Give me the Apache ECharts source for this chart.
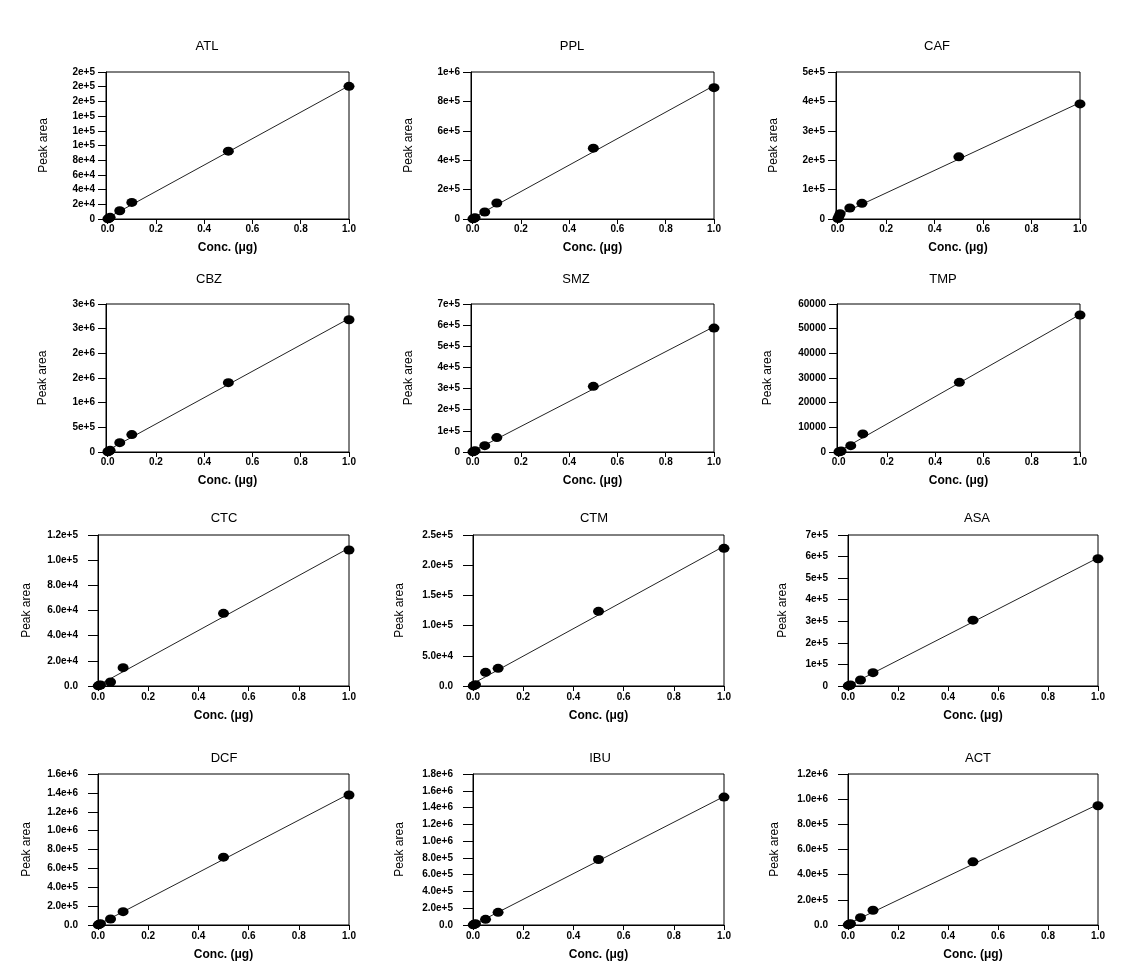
<!DOCTYPE html>
<html><head><meta charset="utf-8">
<script src="https://cdn.jsdelivr.net/npm/echarts@6/dist/echarts.min.js"></script>
<style>html,body{margin:0;padding:0;background:#fff}#c{width:1134px;height:974px}</style>
</head><body><div id="c"></div>
<script>
// ---- data ----
const conc = [0.001, 0.005, 0.01, 0.05, 0.1, 0.5, 1.0];
const compounds = ['ATL','PPL','CAF','CBZ','SMZ','TMP','CTC','CTM','ASA','DCF','IBU','ACT'];
const ATL = [200, 1000, 2300, 11300, 22600, 92300, 180500];
const PPL = [1000, 4500, 9000, 47500, 108600, 482000, 893700];
const CAF = [1500, 9000, 18000, 37300, 53200, 211500, 391400];
const CBZ = [5000, 17000, 34000, 190000, 353000, 1405000, 2681000];
const SMZ = [600, 3000, 6300, 30100, 68100, 310400, 586000];
const TMP = [50, 200, 400, 2580, 7330, 28230, 55520];
const CTC = [100, 500, 800, 3180, 14570, 57750, 108100];
const CTM = [200, 1000, 2000, 22600, 29250, 123600, 227900];
const ASA = [500, 2000, 4600, 27900, 62000, 305100, 590000];
const DCF = [1400, 7000, 14000, 63700, 141600, 718600, 1377000];
const IBU = [1500, 7500, 15000, 67700, 151300, 780500, 1525000];
const ACT = [1000, 5000, 10000, 58400, 116800, 501800, 947800];
const seriesValues = [ATL, PPL, CAF, CBZ, SMZ, TMP, CTC, CTM, ASA, DCF, IBU, ACT];
const yMaxes = [200000, 1000000, 500000, 3000000, 700000, 60000, 120000, 250000, 700000, 1600000, 1800000, 1200000];
const ySteps = [20000, 200000, 100000, 500000, 100000, 10000, 20000, 50000, 100000, 200000, 200000, 200000];
const yFormats = ['e0','e0','e0','e0','e0','plain','e1','e1','e0','e1','e1','e1'];
const xTicks = [0, 0.2, 0.4, 0.6, 0.8, 1.0];
const xTitle = 'Conc. (\u03bcg)';
const yTitle = 'Peak area';

// ---- layout (reference pixels) ----
const boxes = [
  [106,349,72,219],[471,714,72,219],[836,1080,72,219],
  [106,349,304,452],[471,714,304,452],[837,1080,304,452],
  [98,349,535,686],[473,724,535,686],[848,1098,535,686],
  [98,349,774,925],[473,724,774,925],[848,1098,774,925]
];
const titleX = [202,567,932, 204,571,938, 219,589,972, 219,595,973];
const titleY = [35,35,35, 268,268,268, 507,507,507, 747,747,747];
const yNameGap = [56,56,56, 57,56,63, 65,67,59, 65,67,67];
const FONT = 'Liberation Sans, Arial, sans-serif';

function fmt(kind){
  return function(v){
    if (kind === 'plain') return String(Math.round(v));
    if (kind === 'e0') return v === 0 ? '0' : v.toExponential(0);
    return v === 0 ? '0.0' : v.toExponential(1);
  };
}
function fit(xs, ys){
  const n = xs.length;
  let sx=0, sy=0, sxx=0, sxy=0;
  for (let i=0;i<n;i++){ sx+=xs[i]; sy+=ys[i]; sxx+=xs[i]*xs[i]; sxy+=xs[i]*ys[i]; }
  const a = (n*sxy - sx*sy)/(n*sxx - sx*sx);
  const b = (sy - a*sx)/n;
  return [a,b];
}

const grids=[], xAxes=[], yAxes=[], series=[], titles=[];
compounds.forEach(function(name, i){
  const b = boxes[i];
  const lowerRows = i >= 6;
  grids.push({left:b[0], width:b[1]-b[0], top:b[2], height:b[3]-b[2], show:true,
    borderColor:'#000', borderWidth:1, containLabel:false});
  titles.push({text:name, left:titleX[i], top:titleY[i], textAlign:'center',
    textStyle:{fontFamily:FONT, fontSize:13, fontWeight:'normal', color:'#000'}});
  xAxes.push({type:'value', gridIndex:i, min: lowerRows ? 0 : -0.007, max:1.0,
    splitLine:{show:false},
    axisLine:{show:true, onZero:false, lineStyle:{color:'#000', width:1}},
    axisTick:{show:true, length:5, customValues:xTicks, lineStyle:{color:'#000'}},
    axisLabel:{customValues:xTicks, margin: lowerRows ? 6 : 5, fontFamily:FONT, fontSize:10, fontWeight:'bold', color:'#000',
      formatter:function(v){return v.toFixed(1);}},
    name:xTitle, nameLocation:'middle', nameGap: lowerRows ? 24 : 23,
    nameTextStyle:{fontFamily:FONT, fontSize:12, fontWeight:'bold', color:'#000'}});
  yAxes.push({type:'value', gridIndex:i, min:0, max:yMaxes[i], interval:ySteps[i],
    splitLine:{show:false},
    axisLine:{show:true, onZero:false, lineStyle:{color:'#000', width:1}},
    axisTick:{show:true, length: lowerRows ? 10 : 8, lineStyle:{color:'#000'}},
    axisLabel:{margin: lowerRows ? 20 : 11, fontFamily:FONT, fontSize:10, fontWeight:'bold', color:'#000',
      formatter: fmt(yFormats[i])},
    name:yTitle, nameLocation:'middle', nameGap:yNameGap[i], nameRotate:90,
    nameTextStyle:{fontFamily:'Liberation Sans Narrow, Arial Narrow, ' + FONT, fontSize:12, color:'#000'}});
  const vals = seriesValues[i];
  const ab = fit(conc, vals);
  const x0 = conc[0], x1 = conc[conc.length-1];
  series.push({type:'line', xAxisIndex:i, yAxisIndex:i, symbol:'none', silent:true,
    lineStyle:{color:'#222', width:1}, data:[[x0, ab[0]*x0+ab[1]], [x1, ab[0]*x1+ab[1]]], z:2});
  series.push({type:'scatter', xAxisIndex:i, yAxisIndex:i, symbol:'circle', symbolSize:[11,9],
    itemStyle:{color:'#000', opacity:1}, data: conc.map(function(c,k){return [c, vals[k]];}), z:3});
});

const chart = echarts.init(document.getElementById('c'));
chart.setOption({backgroundColor:'#fff', animation:false, title:titles, grid:grids,
  xAxis:xAxes, yAxis:yAxes, series:series});
</script></body></html>
